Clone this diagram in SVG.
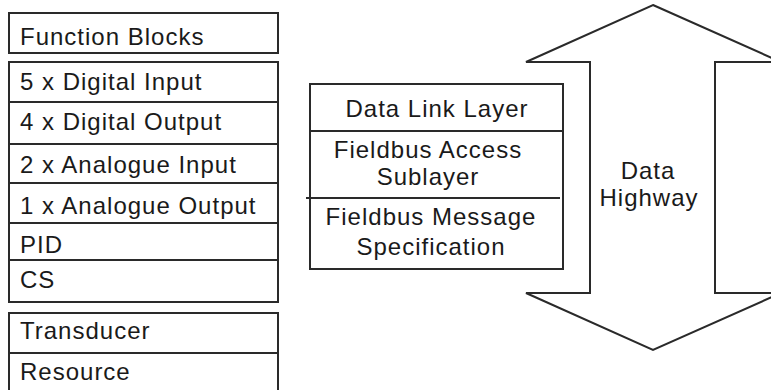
<svg xmlns="http://www.w3.org/2000/svg" width="771" height="390" viewBox="0 0 771 390">
<style>
.b{fill:#fff;stroke:#2a2a2a;stroke-width:2}
.l{stroke:#2a2a2a;stroke-width:2;fill:none}
.t{font-family:"Liberation Sans",Arial,sans-serif;font-size:24px;letter-spacing:1px;fill:#1a1a1a}
.c{text-anchor:middle}
</style>
<rect width="771" height="390" fill="#fff"/>
<g id="function-blocks">
<rect class="b" x="9" y="13" width="269" height="40"/>
<text class="t" x="20" y="45">Function Blocks</text>
</g>
<g id="block-list">
<rect class="b" x="9" y="62" width="269" height="240"/>
<line class="l" x1="9" y1="102" x2="278" y2="102"/>
<line class="l" x1="9" y1="144" x2="278" y2="144"/>
<line class="l" x1="9" y1="183" x2="278" y2="183"/>
<line class="l" x1="9" y1="223" x2="278" y2="223"/>
<line class="l" x1="9" y1="260" x2="278" y2="260"/>
<text class="t" x="20" y="90">5 x Digital Input</text>
<text class="t" x="20" y="130">4 x Digital Output</text>
<text class="t" x="20" y="173">2 x Analogue Input</text>
<text class="t" x="20" y="214">1 x Analogue Output</text>
<text class="t" x="20" y="253">PID</text>
<text class="t" x="20" y="288">CS</text>
</g>
<g id="other-blocks">
<rect class="b" x="9" y="313" width="269" height="90"/>
<line class="l" x1="9" y1="353" x2="278" y2="353"/>
<text class="t" x="20" y="339">Transducer</text>
<text class="t" x="20" y="380">Resource</text>
</g>
<g id="data-link-layer">
<rect class="b" x="310" y="84" width="253" height="185"/>
<line class="l" x1="310" y1="131" x2="563" y2="131"/>
<line class="l" x1="306" y1="198" x2="560" y2="198"/>
<text class="t c" x="437" y="117">Data Link Layer</text>
<text class="t c" x="428" y="158">Fieldbus Access</text>
<text class="t c" x="428" y="185">Sublayer</text>
<text class="t c" x="431" y="225">Fieldbus Message</text>
<text class="t c" x="431" y="255">Specification</text>
</g>
<g id="data-highway">
<polygon class="b" points="653,5 781,62 715,62 715,293 781,293 653,350 526,293 590,293 590,62 526,62"/>
<text class="t c" x="648" y="179">Data</text>
<text class="t c" x="649" y="206">Highway</text>
</g>
<g id="connectors"/>
</svg>
